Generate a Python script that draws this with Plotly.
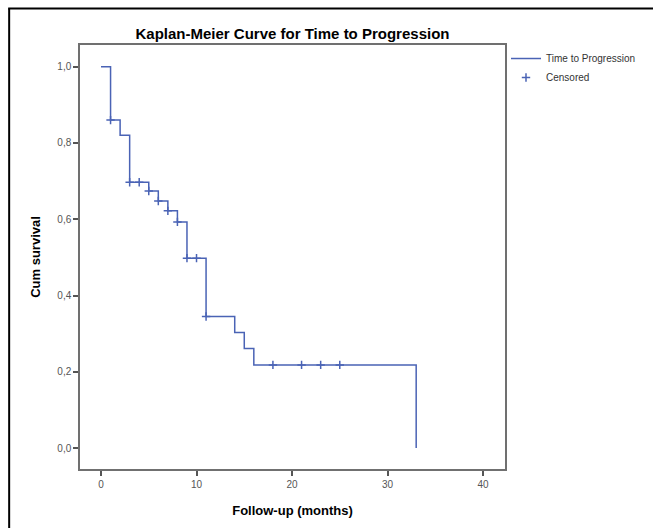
import plotly.graph_objects as go

# Kaplan-Meier step curve
step_time = [0, 1, 2, 3, 5, 6, 7, 8, 9, 11, 14, 15, 16, 33]
step_surv = [1.0, 0.86, 0.82, 0.697, 0.674, 0.648, 0.622, 0.593, 0.498, 0.345, 0.303, 0.261, 0.218, 0.0]

# Censored observations
cens_time = [1, 3, 4, 5, 6, 7, 8, 9, 10, 11, 18, 21, 23, 25]
cens_surv = [0.86, 0.697, 0.697, 0.674, 0.648, 0.622, 0.593, 0.498, 0.498, 0.345, 0.218, 0.218, 0.218, 0.218]

x_ticks = [0, 10, 20, 30, 40]
y_ticks = [0.0, 0.2, 0.4, 0.6, 0.8, 1.0]

blue = "#4a63b5"
font_family = "Liberation Sans, Arial, sans-serif"

fig = go.Figure()
fig.add_trace(go.Scatter(
    x=step_time, y=step_surv, mode="lines", line=dict(color=blue, width=1.5, shape="hv"),
    name="Time to Progression"))
fig.add_trace(go.Scatter(
    x=cens_time, y=cens_surv, mode="markers",
    marker=dict(symbol="cross-thin-open", size=6, line=dict(color=blue, width=1.5), color=blue),
    name="Censored"))

W, H = 653, 528
L, R, T, B = 80, 147, 45, 54
pw, ph = W - L - R, H - T - B

def px2paper_x(px):
    return (px - L) / pw

def py2paper_y(py):
    return (H - B - py) / ph

# outer frame: only left and top edges are visible in the picture
fig.add_shape(type="line", xref="paper", yref="paper",
              x0=px2paper_x(9), x1=px2paper_x(9), y0=py2paper_y(540), y1=py2paper_y(8),
              line=dict(color="black", width=2), layer="above")
fig.add_shape(type="line", xref="paper", yref="paper",
              x0=px2paper_x(8), x1=px2paper_x(660), y0=py2paper_y(8), y1=py2paper_y(8),
              line=dict(color="black", width=2), layer="above")

axis_common = dict(showline=True, mirror=True, linecolor="#707070", linewidth=1.5,
                   showgrid=False, zeroline=False, ticks="outside", ticklen=5,
                   tickwidth=1.5, tickcolor="#555555",
                   tickfont=dict(size=10, color="#555555", family=font_family))

fig.update_layout(
    width=W, height=H,
    margin=dict(l=L, r=R, t=T, b=B, pad=0),
    paper_bgcolor="white", plot_bgcolor="white",
    separators=", ",
    title=dict(text="<b>Kaplan-Meier Curve for Time to Progression</b>",
               x=px2paper_x(293), xref="paper", xanchor="center",
               y=1 - 34 / H, yanchor="middle",
               font=dict(size=15, color="black", family=font_family)),
    xaxis=dict(range=[-2.2, 42.3], tickvals=x_ticks,
               title=dict(text="<b>Follow-up (months)</b>", standoff=17,
                          font=dict(size=13, color="black", family=font_family)),
               **axis_common),
    yaxis=dict(range=[-0.055, 1.057], tickvals=y_ticks, tickformat=".1f",
               title=dict(text="<b>Cum survival</b>", standoff=14,
                          font=dict(size=13, color="black", family=font_family)),
               **axis_common),
    legend=dict(x=px2paper_x(507), y=py2paper_y(44), xanchor="left", yanchor="top",
                bgcolor="rgba(0,0,0,0)", itemwidth=30, tracegroupgap=0,
                font=dict(size=10, color="#333333", family=font_family)),
    showlegend=True,
)

fig.write_html(
    "out.html",
    config={"displayModeBar": False},
    post_script="document.body.style.margin='0';document.body.style.overflow='hidden';"
                "document.documentElement.style.overflow='hidden';",
)
